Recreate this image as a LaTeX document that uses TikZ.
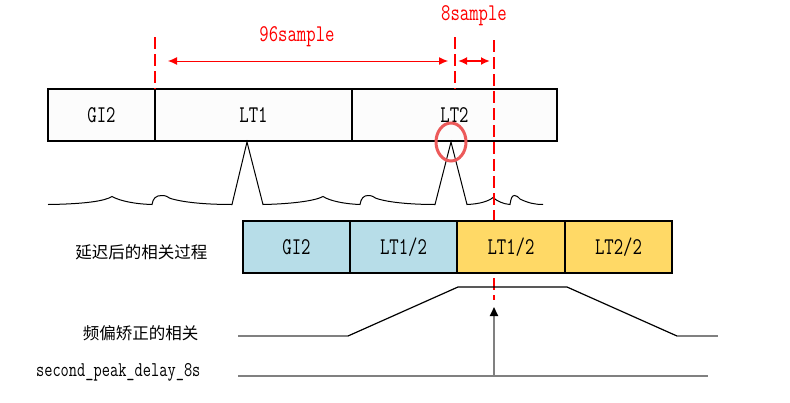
\documentclass[tikz,border=0pt]{standalone}
\usepackage{fontspec}
\newfontfamily\monofont[FakeStretch=0.76]{Latin Modern Mono}
\newfontfamily\cjkfont{Noto Sans CJK SC}
\usetikzlibrary{arrows.meta,positioning,shapes.geometric}
\definecolor{markred}{RGB}{255,0,0}
\definecolor{ringred}{RGB}{236,90,90}
\definecolor{cellblue}{RGB}{183,221,232}
\definecolor{cellgold}{RGB}{255,217,102}
\definecolor{railgray}{RGB}{128,128,128}
\tikzset{
  frame/.style={draw=black, line width=1.5pt, fill=black!1, minimum height=52pt,
                inner sep=0pt, outer sep=0pt, font=\monofont\fontsize{24}{24}\selectfont},
  bluecell/.style={frame, fill=cellblue},
  goldcell/.style={frame, fill=cellgold},
  cutline/.style={markred, line width=2pt, dash pattern=on 12pt off 5pt},
  span/.style={markred, line width=1pt, {Latex[length=9pt,width=8pt]}-{Latex[length=9pt,width=8pt]}},
  redlabel/.style={markred, font=\monofont\fontsize{24}{24}\selectfont},
  rowlabel/.style={anchor=east, font=\cjkfont\fontsize{16.5}{16.5}\selectfont},
  wave/.style={black, line width=1pt},
  rail/.style={railgray, line width=2pt},
  ramp/.style={black, line width=1.2pt},
}

\begin{document}
\begin{tikzpicture}[x=1pt,y=-1pt]
  \useasboundingbox (0,0) rectangle (790,402);
  % --- ust cerceve: GI2 / LT1 / LT2 ---
  \node[frame, minimum width=107pt, anchor=west] (gi) at (48,115) {GI2};
  \node[frame, minimum width=197pt, right=0pt of gi] (lta) {LT1};
  \node[frame, minimum width=205pt, right=0pt of lta] (ltb) {LT2};

  % --- korelasyon dalgasi ---
  \draw[wave] (48,204.5) .. controls (85,204) and (105,201) .. (112,196.5)
    .. controls (120,201) and (135,204) .. (152,204.5)
    .. controls (153,198) and (156,195.5) .. (162,195.5)
    .. controls (166,195.5) and (168,197) .. (170,198.3)
    .. controls (185,203) and (210,204.5) .. (232,204.5)
    -- (247,142) -- (263,204.5)
    .. controls (290,204) and (315,201) .. (323,196.5)
    .. controls (330,201) and (345,204) .. (360,204.5)
    .. controls (361,198) and (364,195.5) .. (368,195.5)
    .. controls (372,195.5) and (374,197) .. (376,198.3)
    .. controls (390,203) and (415,204.5) .. (435,204.5)
    -- (451,142) -- (467,204.5)
    .. controls (480,204) and (489,201) .. (493,197.5)
    .. controls (497,201) and (503,204) .. (510,204.5)
    .. controls (511,198) and (512,195.5) .. (514.5,195.5)
    .. controls (517,195.5) and (518,197) .. (520,199)
    .. controls (528,203) and (535,204.5) .. (543,204.5);
  \node[draw=ringred, line width=3pt, ellipse, minimum width=30pt,
        minimum height=38pt, inner sep=0pt] (ring) at (451,142) {};

  % --- kesik cizgiler ve araliklar ---
  \coordinate (cutA) at (155,37);
  \coordinate (cutB) at (455,37);
  \coordinate (cutBlow) at (455,89);
  \coordinate (cutC) at (494,40);
  \coordinate (cutClow) at (494,300);
  \draw[cutline] (cutA) -- (gi.north east);
  \draw[cutline] (cutB) -- (cutBlow);
  \draw[cutline] (cutC) -- (cutClow);
  \coordinate (s96a) at (168,61);
  \coordinate (s96b) at (448,61);
  \coordinate (s8a) at (458,61);
  \coordinate (s8b) at (490,61);
  \draw[span] (s96a) -- (s96b);
  \draw[span, line width=2pt] (s8a) -- (s8b);
  \node[redlabel] (lab96) at (297,37) {96sample};
  \node[redlabel] (lab8) at (474,16) {8sample};

  % --- gecikmeli korelasyon ---
  \node[rowlabel] (delaytxt) at (211,252) {延迟后的相关过程};
  \node[bluecell, minimum width=107pt, anchor=west] (dgi) at (243,247) {GI2};
  \node[bluecell, minimum width=107pt, right=0pt of dgi] (dh1) {LT1/2};
  \node[goldcell, minimum width=108pt, right=0pt of dh1] (dh2) {LT1/2};
  \node[goldcell, minimum width=107pt, right=0pt of dh2] (dh3) {LT2/2};

  % --- frekans duzeltmeli korelasyon ---
  \node[rowlabel] (corrtxt) at (202,333) {频偏矫正的相关};
  \coordinate (r0) at (238,336);
  \coordinate (r1) at (348,336);
  \coordinate (r2) at (458,287);
  \coordinate (r3) at (567,287);
  \coordinate (r4) at (677,336);
  \coordinate (r5) at (718,336);
  \draw[rail] (r0) -- (r1);
  \draw[ramp] (r1) -- (r2) -- (r3) -- (r4);
  \draw[rail] (r4) -- (r5);

  % --- ikinci tepe gecikmesi ---
  \node[anchor=east, font=\monofont\fontsize{21}{21}\selectfont] (peaktxt)
    at (204,372) {second\_peak\_delay\_8s};
  \coordinate (p0) at (238,376);
  \coordinate (p1) at (708,376);
  \coordinate (pfoot) at (494,376);
  \coordinate (ptip) at (494,307);
  \draw[rail] (p0) -- (p1);
  \draw[rail, -{Triangle[length=9pt,width=8pt,color=black,fill=black]}] (pfoot) -- (ptip);
\end{tikzpicture}
\end{document}
